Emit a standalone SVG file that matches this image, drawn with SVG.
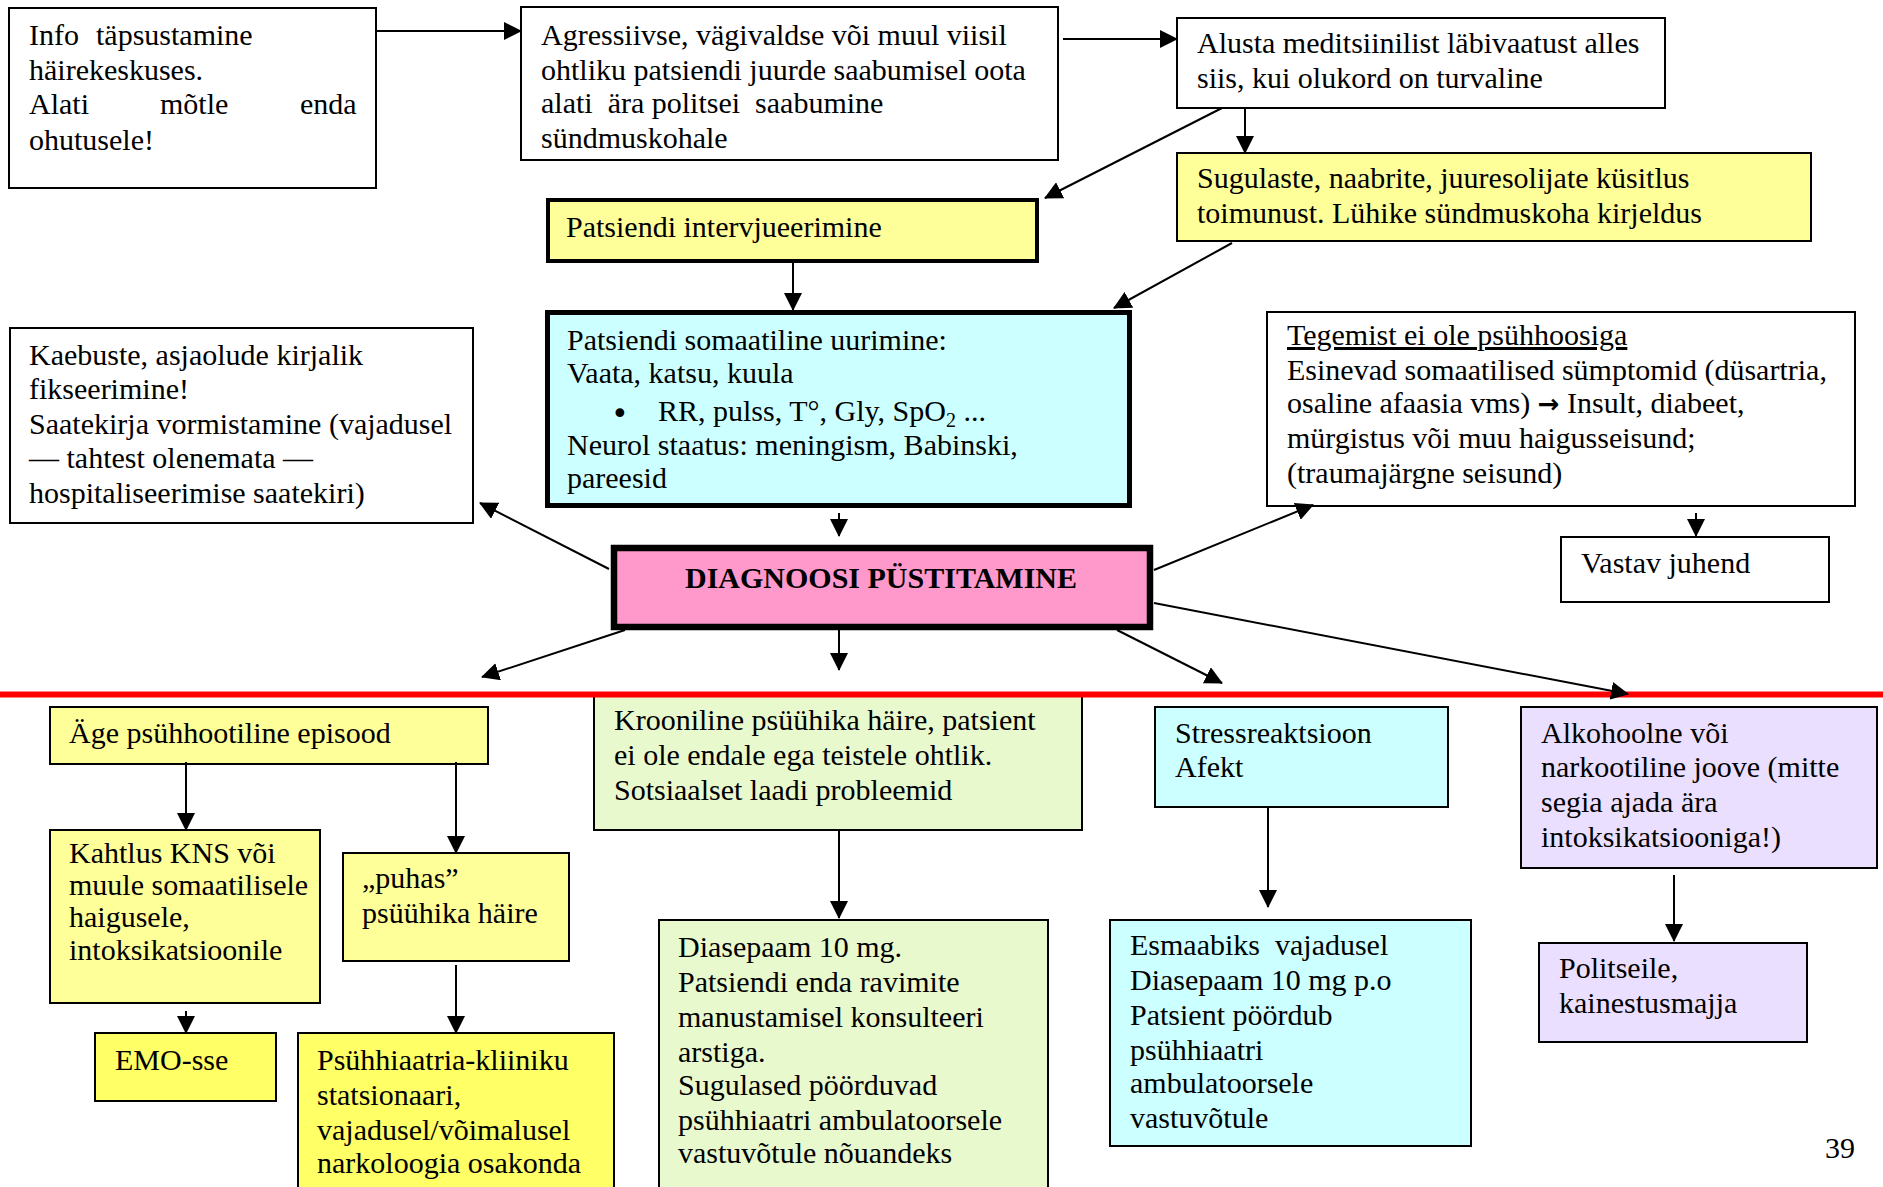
<svg xmlns="http://www.w3.org/2000/svg" width="1883" height="1187" viewBox="0 0 1883 1187">
  <style>
    text { font-family: "Liberation Serif", "Times New Roman", serif; font-size: 30px; fill: #000; }
    .b { stroke: #000; stroke-width: 2; }
    .white { fill: #fff; }
    .yel { fill: #ffff99; }
    .yel2 { fill: #ffff66; }
    .cyan { fill: #ccffff; }
    .pink { fill: #ff99cc; }
    .green { fill: #e9f9ce; }
    .lav { fill: #ebdfff; }
    .sym { font-family: "DejaVu Sans", sans-serif; }
    .conn path { fill: none; stroke: #000; stroke-width: 2; marker-end: url(#arr); }
  </style>
  <defs>
    <marker id="arr" markerUnits="userSpaceOnUse" markerWidth="18" markerHeight="18" viewBox="0 0 18 18" refX="17" refY="9" orient="auto">
      <path d="M0,0 L18,9 L0,18 z" fill="#000"/>
    </marker>
  </defs>
  <rect width="1883" height="1187" fill="#fff"/>

  <!-- top row -->
  <g id="n-info">
    <rect class="b white" x="9" y="8" width="367" height="180"/>
    <text x="29" y="45">Info</text><text x="96" y="45">täpsustamine</text>
    <text x="29" y="80">häirekeskuses.</text>
    <text y="114"><tspan x="29">Alati</tspan><tspan x="160">mõtle</tspan><tspan x="300">enda</tspan></text>
    <text x="29" y="150">ohutusele!</text>
  </g>
  <g id="n-agressiivne">
    <rect class="b white" x="521" y="7" width="537" height="153"/>
    <text x="541" y="45">Agressiivse, vägivaldse või muul viisil</text>
    <text x="541" y="80">ohtliku patsiendi juurde saabumisel oota</text>
    <text x="541" y="113" xml:space="preserve">alati  ära politsei  saabumine</text>
    <text x="541" y="148">sündmuskohale</text>
  </g>
  <g id="n-alusta">
    <rect class="b white" x="1177" y="18" width="488" height="90"/>
    <text x="1197" y="53">Alusta meditsiinilist läbivaatust alles</text>
    <text x="1197" y="88">siis, kui olukord on turvaline</text>
  </g>
  <g id="n-sugulaste">
    <rect class="b yel" x="1177" y="153" width="634" height="88"/>
    <text x="1197" y="188">Sugulaste, naabrite, juuresolijate küsitlus</text>
    <text x="1197" y="223">toimunust. Lühike sündmuskoha kirjeldus</text>
  </g>
  <g id="n-intervjuu">
    <rect class="yel" stroke="#000" stroke-width="4" x="548" y="200" width="489" height="61"/>
    <text x="566" y="237">Patsiendi intervjueerimine</text>
  </g>
  <g id="n-somaatiline">
    <rect class="cyan" stroke="#000" stroke-width="5" x="547.5" y="312.5" width="582" height="193"/>
    <text x="567" y="350">Patsiendi somaatiline uurimine:</text>
    <text x="567" y="383">Vaata, katsu, kuula</text>
    <text class="sym" x="611" y="424" font-size="34">•</text>
    <text x="658" y="421">RR, pulss, T°, Gly, SpO<tspan font-size="20" dy="6">2</tspan><tspan dy="-6"> ...</tspan></text>
    <text x="567" y="455">Neurol staatus: meningism, Babinski,</text>
    <text x="567" y="488">pareesid</text>
  </g>
  <g id="n-kaebuste">
    <rect class="b white" x="10" y="328" width="463" height="195"/>
    <text x="29" y="365">Kaebuste, asjaolude kirjalik</text>
    <text x="29" y="399">fikseerimine!</text>
    <text x="29" y="434">Saatekirja vormistamine (vajadusel</text>
    <text x="29" y="468">— tahtest olenemata —</text>
    <text x="29" y="503">hospitaliseerimise saatekiri)</text>
  </g>
  <g id="n-tegemist">
    <rect class="b white" x="1267" y="312" width="588" height="194"/>
    <text x="1287" y="345" text-decoration="underline">Tegemist ei ole psühhoosiga</text>
    <text x="1287" y="380">Esinevad somaatilised sümptomid (düsartria,</text>
    <text x="1287" y="413">osaline afaasia vms) <tspan class="sym" font-size="26" font-weight="bold">→</tspan> Insult, diabeet,</text>
    <text x="1287" y="448">mürgistus või muu haigusseisund;</text>
    <text x="1287" y="483">(traumajärgne seisund)</text>
  </g>
  <g id="n-vastav">
    <rect class="b white" x="1561" y="537" width="268" height="65"/>
    <text x="1581" y="573">Vastav juhend</text>
  </g>
  <g id="n-diagnoos">
    <rect class="pink" stroke="#000" stroke-width="6.5" x="614" y="548" width="536" height="79"/>
    <text x="881" y="588" text-anchor="middle" font-weight="bold">DIAGNOOSI PÜSTITAMINE</text>
  </g>

  <!-- bottom row -->
  <g id="n-age">
    <rect class="b yel" x="50" y="707" width="438" height="57"/>
    <text x="69" y="743">Äge psühhootiline episood</text>
  </g>
  <g id="n-kahtlus">
    <rect class="b yel" x="50" y="830" width="270" height="173"/>
    <text x="69" y="863" font-size="27">Kahtlus KNS või</text>
    <text x="69" y="895" font-size="27">muule somaatilisele</text>
    <text x="69" y="927" font-size="27">haigusele,</text>
    <text x="69" y="960" font-size="27">intoksikatsioonile</text>
  </g>
  <g id="n-puhas">
    <rect class="b yel" x="343" y="853" width="226" height="108"/>
    <text x="362" y="888">„puhas”</text>
    <text x="362" y="923">psüühika häire</text>
  </g>
  <g id="n-emo">
    <rect class="b yel2" x="95" y="1033" width="181" height="68"/>
    <text x="115" y="1070">EMO-sse</text>
  </g>
  <g id="n-psuhhiaatria">
    <rect class="b yel2" x="298" y="1033" width="316" height="170"/>
    <text x="317" y="1070">Psühhiaatria-kliiniku</text>
    <text x="317" y="1105">statsionaari,</text>
    <text x="317" y="1140">vajadusel/võimalusel</text>
    <text x="317" y="1173">narkoloogia osakonda</text>
  </g>
  <g id="n-krooniline">
    <rect class="b green" x="594" y="696" width="488" height="134"/>
    <text x="614" y="730">Krooniline psüühika häire, patsient</text>
    <text x="614" y="765">ei ole endale ega teistele ohtlik.</text>
    <text x="614" y="800">Sotsiaalset laadi probleemid</text>
  </g>
  <g id="n-diasepaam">
    <rect class="b green" x="659" y="920" width="389" height="280"/>
    <text x="678" y="957">Diasepaam 10 mg.</text>
    <text x="678" y="992">Patsiendi enda ravimite</text>
    <text x="678" y="1027">manustamisel konsulteeri</text>
    <text x="678" y="1062">arstiga.</text>
    <text x="678" y="1095">Sugulased pöörduvad</text>
    <text x="678" y="1130">psühhiaatri ambulatoorsele</text>
    <text x="678" y="1163">vastuvõtule nõuandeks</text>
  </g>
  <g id="n-stress">
    <rect class="b cyan" x="1155" y="707" width="293" height="100"/>
    <text x="1175" y="743">Stressreaktsioon</text>
    <text x="1175" y="777">Afekt</text>
  </g>
  <g id="n-esmaabi">
    <rect class="b cyan" x="1110" y="920" width="361" height="226"/>
    <text x="1130" y="955" xml:space="preserve">Esmaabiks  vajadusel</text>
    <text x="1130" y="990">Diasepaam 10 mg p.o</text>
    <text x="1130" y="1025">Patsient pöördub</text>
    <text x="1130" y="1060">psühhiaatri</text>
    <text x="1130" y="1093">ambulatoorsele</text>
    <text x="1130" y="1128">vastuvõtule</text>
  </g>
  <g id="n-alkohoolne">
    <rect class="b lav" x="1521" y="707" width="356" height="161"/>
    <text x="1541" y="743">Alkohoolne või</text>
    <text x="1541" y="777">narkootiline joove (mitte</text>
    <text x="1541" y="812">segia ajada ära</text>
    <text x="1541" y="847">intoksikatsiooniga!)</text>
  </g>
  <g id="n-politsei">
    <rect class="b lav" x="1539" y="943" width="268" height="99"/>
    <text x="1559" y="978">Politseile,</text>
    <text x="1559" y="1013">kainestusmajja</text>
  </g>

  <!-- separator between assessment and outcomes -->
  <line x1="0" y1="694.5" x2="1883" y2="694.5" stroke="#ff0000" stroke-width="6"/>

  <g id="connectors" class="conn">
    <path d="M376,31 H521"/>
    <path d="M1063,39 H1177"/>
    <path d="M1245,108 V153"/>
    <path d="M1222,108 L1045,198"/>
    <path d="M1232,243 L1114,308"/>
    <path d="M793,263 V310"/>
    <path d="M839,513 V536"/>
    <path d="M609,569 L480,503"/>
    <path d="M1154,570 L1313,505"/>
    <path d="M1696,513 V536"/>
    <path d="M625,630 L482,677"/>
    <path d="M839,630 V670"/>
    <path d="M1117,630 L1222,683"/>
    <path d="M1154,603 L1628,694"/>
    <path d="M186,762 V830"/>
    <path d="M456,762 V853"/>
    <path d="M186,1011 V1033"/>
    <path d="M456,965 V1033"/>
    <path d="M839,830 V918"/>
    <path d="M1268,807 V907"/>
    <path d="M1674,875 V941"/>
  </g>

  <text x="1825" y="1158" font-size="28">39</text>
</svg>
